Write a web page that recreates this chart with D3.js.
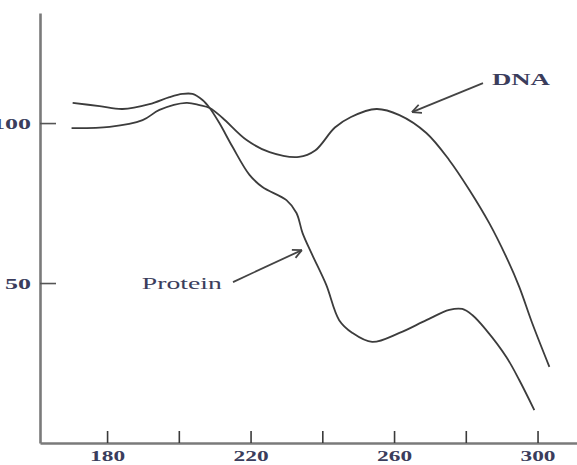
<!DOCTYPE html>
<html>
<head>
<meta charset="utf-8">
<script src="https://d3js.org/d3.v7.min.js"></script>
<style>
    body { margin: 0; background: #fff; }
    svg { display: block; }
</style>
</head>
<body>
<div id="graph"></div>
<script>
// wavelength (nm) and absorbance-like values
const dnaWavelength = [170.1, 180.7, 189.9, 194.6, 202.1, 205.8, 208.6, 212.2, 218.9, 225.3, 233.5, 238.0, 243.5, 248.0, 255.1, 261.5, 269.0, 275.4, 281.0, 286.5, 291.3, 294.9, 298.5, 303.3]
const dnaValue = [98.4, 98.8, 100.9, 104.1, 106.3, 105.6, 104.7, 101.6, 94.7, 90.9, 89.4, 91.4, 98.6, 101.9, 104.4, 102.5, 96.9, 88.4, 79.1, 68.8, 58.1, 48.8, 37.5, 23.8]

const proteinWavelength = [170.4, 177.9, 184.3, 191.8, 197.4, 201.0, 203.8, 206.6, 208.6, 211.3, 215.0, 219.7, 223.3, 230.0, 232.8, 234.5, 237.2, 241.1, 244.7, 248.4, 253.9, 261.5, 269.0, 275.4, 279.0, 281.8, 285.7, 291.3, 294.9, 299.1]
const proteinValue = [106.3, 105.3, 104.4, 105.9, 108.1, 109.1, 109.1, 107.2, 104.7, 100.0, 92.5, 83.8, 80.0, 75.9, 71.9, 65.6, 58.8, 49.4, 38.4, 34.4, 31.6, 34.4, 38.4, 41.6, 41.9, 40.0, 35.3, 26.9, 19.7, 10.3]

const xTicks = [180, 200, 220, 240, 260, 280, 300]
const xTickLabels = [180, 220, 260, 300]
const yTicks = [50, 100]
const yTickLabels = ['50', '100']

const width = 577
const height = 465
const serif = '"Liberation Serif", "DejaVu Serif", serif'
const textColor = '#3b3d5c'

const svg = d3.select('#graph')
    .append('svg')
    .attr('width', width)
    .attr('height', height)

const xScale = d3.scaleLinear().domain([161.3, 311]).range([40, 577])
const yScale = d3.scaleLinear().domain([0, 134.4]).range([443, 13])

const xAxis = d3.axisBottom(xScale)
    .tickValues(xTicks)
    .tickSizeInner(-12)
    .tickSizeOuter(0)
    .tickPadding(8)
    .tickFormat(d => xTickLabels.includes(d) ? d : '')

const yAxis = d3.axisLeft(yScale)
    .tickValues(yTicks)
    .tickSizeInner(-16)
    .tickSizeOuter(0)
    .tickPadding(9)
    .tickFormat((d, i) => yTickLabels[i])

const gx = svg.append('g')
    .attr('transform', `translate(0,${yScale(0)})`)
    .call(xAxis)

const gy = svg.append('g')
    .attr('transform', `translate(${xScale(161.3)},0)`)
    .call(yAxis)

gx.select('.domain').attr('stroke', '#7a7a7a').attr('stroke-width', 2.6)
gy.select('.domain').attr('stroke', '#7a7a7a').attr('stroke-width', 2.6)
gx.selectAll('.tick line').attr('stroke', '#3a3a3a').attr('stroke-width', 1.6)
gy.selectAll('.tick line').attr('stroke', '#555').attr('stroke-width', 1.6)

gx.selectAll('.tick text')
    .attr('fill', textColor)
    .style('font-family', serif)
    .style('font-size', '14px')
    .style('font-weight', 'bold')
    .attr('textLength', d => xTickLabels.includes(d) ? 35 : null)
    .attr('lengthAdjust', 'spacingAndGlyphs')

gy.selectAll('.tick text')
    .attr('fill', textColor)
    .style('font-family', serif)
    .style('font-size', '15px')
    .style('font-weight', 'bold')
    .attr('dy', '0.36em')
    .attr('textLength', (d, i) => yTickLabels[i].length * 13)
    .attr('lengthAdjust', 'spacingAndGlyphs')

const line = d3.line()
    .x(d => xScale(d[0]))
    .y(d => yScale(d[1]))
    .curve(d3.curveCatmullRom.alpha(0.5))

const dnaData = dnaWavelength.map((w, i) => [w, dnaValue[i]])
const proteinData = proteinWavelength.map((w, i) => [w, proteinValue[i]])

svg.selectAll('path.curve')
    .data([dnaData, proteinData])
    .enter()
    .append('path')
    .attr('class', 'curve')
    .attr('d', line)
    .attr('fill', 'none')
    .attr('stroke', '#3c3c3c')
    .attr('stroke-width', 1.8)

// annotation arrows (tail, tip in data units)
const arrows = [
    {tail: [284.8, 112.5], tip: [265.0, 103.4]},
    {tail: [215.1, 50.3], tip: [234.3, 60.3]}
]

const drawArrow = (a) => {
    const x1 = xScale(a.tail[0]), y1 = yScale(a.tail[1])
    const x2 = xScale(a.tip[0]), y2 = yScale(a.tip[1])
    const ang = Math.atan2(y2 - y1, x2 - x1)
    const g = svg.append('g').attr('stroke', '#444').attr('stroke-width', 1.8).attr('fill', 'none')
    g.append('line').attr('x1', x1).attr('y1', y1).attr('x2', x2).attr('y2', y2)
    ;[0.45, -0.45].forEach(o => {
        g.append('line')
            .attr('x1', x2).attr('y1', y2)
            .attr('x2', x2 - 10 * Math.cos(ang + o))
            .attr('y2', y2 - 10 * Math.sin(ang + o))
    })
}
arrows.forEach(drawArrow)

const labels = [
    {text: 'DNA', at: [287.3, 111.9], len: 58},
    {text: 'Protein', at: [189.7, 48.1], len: 80}
]

svg.selectAll('text.note')
    .data(labels)
    .enter()
    .append('text')
    .attr('class', 'note')
    .attr('x', d => xScale(d.at[0]))
    .attr('y', d => yScale(d.at[1]))
    .attr('fill', textColor)
    .style('font-family', serif)
    .style('font-size', '17px')
    .style('font-weight', d => d.text === 'DNA' ? 'bold' : 'normal')
    .attr('textLength', d => d.len)
    .attr('lengthAdjust', 'spacingAndGlyphs')
    .text(d => d.text)
</script>
</body>
</html>
